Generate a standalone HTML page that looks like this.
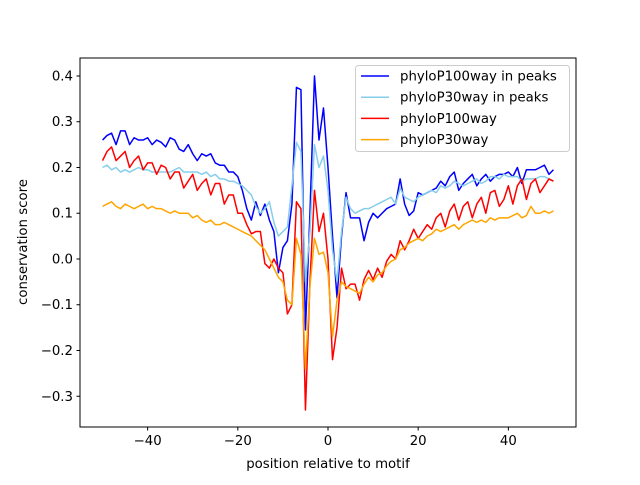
<!DOCTYPE html>
<html><head><meta charset="utf-8"><style>
body{margin:0;background:#fff}
svg{font-family:"DejaVu Sans","Liberation Sans",sans-serif}
</style></head><body>
<svg id="chart" width="640" height="480" viewBox="0 0 640 480">
<rect width="640" height="480" fill="#fff"/>
<g id="series"></g>
<rect x="80" y="58" width="496" height="369" fill="none" stroke="#000" stroke-width="1"/>
<g id="axes" font-size="13.3" fill="#000"></g>
<text x="328" y="468" text-anchor="middle" font-size="13.3">position relative to motif</text>
<text x="27" y="242" text-anchor="middle" font-size="13.3" transform="rotate(-90 27 242)">conservation score</text>
<g id="legend">
<rect x="355.5" y="65.5" width="214" height="86" rx="3" fill="#fff" fill-opacity="0.8" stroke="#ccc"/>
</g>
</svg>
<script>
const positions = Array.from({length:101},(_,i)=>i-50);
const seriesNames = ["phyloP100way in peaks","phyloP30way in peaks","phyloP100way","phyloP30way"];
const seriesColors = ["#0000ff","#87ceeb","#ff0000","#ffa500"];
const blueVals = [.26,.27,.275,.25,.28,.28,.25,.265,.26,.26,
.265,.25,.26,.255,.245,.265,.26,.24,.235,.25,
.23,.215,.23,.225,.23,.21,.205,.205,.19,.19,
.18,.15,.11,.085,.125,.095,.12,.085,.06,-.03,
.025,.04,.12,.375,.37,-.155,.1,.4,.26,.33,
.2,.05,-.085,.05,.145,.09,.09,.09,.04,.08,
.1,.09,.1,.11,.115,.12,.175,.12,.095,.105,
.145,.14,.145,.15,.155,.17,.16,.18,.19,.15,
.165,.175,.185,.16,.175,.185,.17,.18,.185,.185,
.19,.18,.2,.165,.195,.195,.195,.2,.205,.185,.195];
const skyVals = [.2,.205,.195,.2,.19,.195,.19,.195,.2,.195,
.195,.19,.19,.19,.19,.19,.195,.2,.19,.19,
.19,.19,.185,.19,.18,.185,.175,.175,.17,.17,
.165,.16,.15,.14,.115,.1,.11,.125,.08,.05,
.06,.07,.16,.255,.235,-.05,.06,.25,.2,.225,
.15,.02,-.05,.06,.135,.11,.1,.105,.11,.11,
.115,.12,.125,.13,.135,.12,.155,.135,.13,.125,
.135,.14,.145,.15,.145,.16,.155,.16,.17,.165,
.16,.165,.17,.175,.165,.17,.18,.18,.175,.185,
.18,.18,.18,.17,.175,.175,.175,.18,.18,.175,.17];
const redVals = [.215,.235,.245,.215,.225,.235,.2,.215,.225,.195,
.21,.21,.185,.205,.2,.175,.19,.19,.155,.17,
.185,.15,.165,.175,.14,.165,.165,.12,.14,.14,
.1,.1,.075,.055,.06,.06,-.01,-.02,0,-.02,
-.03,-.12,-.1,.125,.11,-.33,-.05,.15,.06,.1,
0,-.22,-.15,-.02,-.065,-.055,-.055,-.09,-.045,-.025,
-.045,-.02,-.04,-.005,.01,0,.04,.02,.04,.065,
.045,.06,.075,.065,.09,.1,.07,.105,.12,.085,
.115,.125,.09,.12,.135,.1,.145,.15,.115,.13,
.16,.12,.16,.175,.13,.165,.175,.145,.16,.175,.17];
const orangeVals = [.115,.12,.125,.115,.11,.12,.115,.11,.115,.12,
.11,.115,.11,.11,.105,.1,.105,.1,.1,.1,
.09,.095,.085,.08,.085,.075,.075,.08,.075,.07,
.065,.06,.055,.05,.04,.03,.02,0,-.02,-.04,
-.05,-.09,-.1,.045,.01,-.24,-.06,.045,.01,.015,
-.03,-.17,-.09,-.05,-.06,-.065,-.07,-.075,-.055,-.04,
-.05,-.035,-.03,-.015,-.005,0,.02,.025,.035,.04,
.045,.04,.05,.055,.065,.06,.065,.07,.075,.065,
.075,.08,.085,.08,.085,.08,.09,.085,.09,.09,
.09,.095,.1,.09,.095,.115,.1,.1,.105,.1,.105];
const xTicks = [-40,-20,0,20,40];
const yTicks = [-0.3,-0.2,-0.1,0,0.1,0.2,0.3,0.4];
const yTickLabels = ["\u22120.3","\u22120.2","\u22120.1","0.0","0.1","0.2","0.3","0.4"];
const xTickLabels = ["\u221240","\u221220","0","20","40"];

const NS="http://www.w3.org/2000/svg";
const xMin=-55,xMax=55,yMin=-0.3672,yMax=0.4393;
const L=80,R=576,T=58,B=427;
function xs(v){return L+(v-xMin)/(xMax-xMin)*(R-L);}
function ys(v){return B-(v-yMin)/(yMax-yMin)*(B-T);}
const allVals=[blueVals,skyVals,redVals,orangeVals];
const sg=document.getElementById('series');
const slugs=["phylop100-peaks-line","phylop30-peaks-line","phylop100-line","phylop30-line"];
allVals.forEach((vals,k)=>{
  const p=document.createElementNS(NS,'polyline');
  p.setAttribute('points',vals.map((v,i)=>xs(positions[i]).toFixed(2)+','+ys(v).toFixed(2)).join(' '));
  p.setAttribute('fill','none');p.setAttribute('stroke',seriesColors[k]);
  p.setAttribute('stroke-width','1.5');p.setAttribute('stroke-linejoin','round');
  
  
  sg.appendChild(p);
});
const ag=document.getElementById('axes');
xTicks.forEach((t,i)=>{
  const x=xs(t);
  const l=document.createElementNS(NS,'line');
  l.setAttribute('x1',x);l.setAttribute('x2',x);l.setAttribute('y1',B);l.setAttribute('y2',B+3.5);l.setAttribute('stroke','#000');
  
  
  ag.appendChild(l);
  const tx=document.createElementNS(NS,'text');
  tx.setAttribute('x',x);tx.setAttribute('y',B+18);tx.setAttribute('text-anchor','middle');
  tx.textContent=xTickLabels[i];
  
  
  ag.appendChild(tx);
});
yTicks.forEach((t,i)=>{
  const y=ys(t);
  const l=document.createElementNS(NS,'line');
  l.setAttribute('x1',L-3.5);l.setAttribute('x2',L);l.setAttribute('y1',y);l.setAttribute('y2',y);l.setAttribute('stroke','#000');
  
  
  ag.appendChild(l);
  const tx=document.createElementNS(NS,'text');
  tx.setAttribute('x',L-7);tx.setAttribute('y',y+4.5);tx.setAttribute('text-anchor','end');
  tx.textContent=yTickLabels[i];
  
  
  ag.appendChild(tx);
});
const lg=document.getElementById('legend');
seriesNames.forEach((n,k)=>{
  const y=76+k*21.2;
  const l=document.createElementNS(NS,'line');
  l.setAttribute('x1',361);l.setAttribute('x2',389);l.setAttribute('y1',y);l.setAttribute('y2',y);
  l.setAttribute('stroke',seriesColors[k]);l.setAttribute('stroke-width','1.5');
  
  
  lg.appendChild(l);
  const tx=document.createElementNS(NS,'text');
  tx.setAttribute('x',400);tx.setAttribute('y',y+4.5);tx.setAttribute('font-size','13.3');
  tx.textContent=n;
  
  
  lg.appendChild(tx);
});
</script>
</body></html>
